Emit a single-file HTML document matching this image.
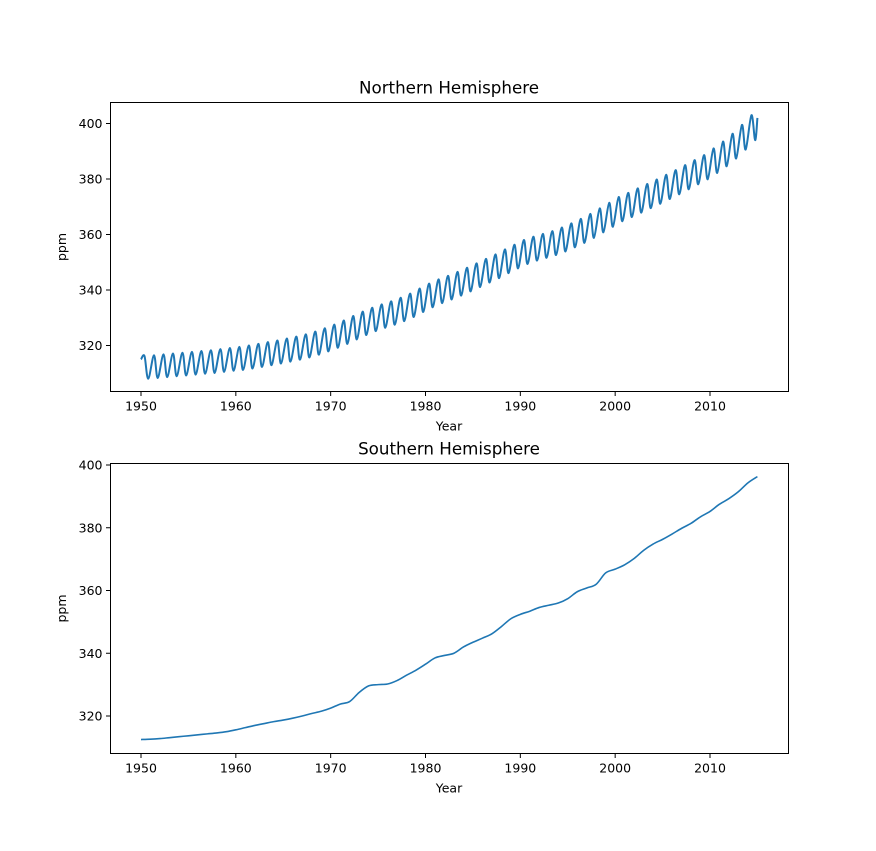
<!DOCTYPE html>
<html><head><meta charset="utf-8"><style>
html,body{margin:0;padding:0;background:#fff;}
svg text{font-family:"DejaVu Sans","Liberation Sans",sans-serif;fill:#000;}
</style></head><body>
<svg id="fig" width="876" height="846" viewBox="0 0 876 846" xmlns="http://www.w3.org/2000/svg">
<rect width="876" height="846" fill="#fff"/>
</svg>
<script>
const xTicks = [1950, 1960, 1970, 1980, 1990, 2000, 2010];
const yTicks = [320, 340, 360, 380, 400];
const nhStartYear = 1950;
const nhStartValue = 315;
const nhEndValue = 402;
const nhPeaks = [316.2,316.5,316.8,317.1,317.4,317.7,318,318.3,318.7,319.1,
319.5,320,320.6,321.2,321.8,322.5,323.2,324,325,326.2,
327.5,329,330.6,332.2,333.6,334.8,335.9,337.2,338.7,340.5,
342.3,343.8,345.1,346.5,348,349.6,351.2,352.8,354.6,356.3,
358,359.2,360.2,361.2,362.5,364,365.6,367.4,369.4,371.4,
373.5,375,376.6,378.2,379.8,381.5,383.2,385,386.8,388.6,
391,393.5,396.3,399.5,403];
const nhTroughs = [308,308.3,308.6,308.9,309.2,309.5,309.8,310.1,310.5,310.9,
311.2,311.7,312.3,312.9,313.5,314.2,314.9,315.7,316.7,317.9,
319.2,320.6,322.2,323.8,325.2,326.4,327.5,328.8,330.3,332.1,
333.8,335.3,336.6,338,339.5,341.1,342.7,344.3,346.1,347.8,
349.4,350.6,351.6,352.6,353.9,355.4,357,358.8,360.8,362.8,
364.8,366.3,367.9,369.5,371.1,372.8,374.5,376.3,378.1,379.9,
382.2,384.6,387.4,390.6,394];
const shYears = [1950,1951,1952,1953,1954,1955,1956,1957,1958,1959,1960,1961,1962,1963,1964,1965,1966,1967,1968,1969,1970,1971,1972,1973,1974,1975,1976,1977,1978,1979,1980,1981,1982,1983,1984,1985,1986,1987,1988,1989,1990,1991,1992,1993,1994,1995,1996,1997,1998,1999,2000,2001,2002,2003,2004,2005,2006,2007,2008,2009,2010,2011,2012,2013,2014,2015];
const shValues = [312.5,312.6,312.8,313.1,313.4,313.7,314,314.3,314.6,315,315.6,316.3,317,317.6,318.2,318.7,319.3,320,320.8,321.5,322.5,323.8,324.6,327.5,329.6,330,330.2,331.3,333,334.6,336.5,338.5,339.3,340,342,343.5,344.8,346.2,348.5,351,352.4,353.4,354.6,355.3,356,357.4,359.6,360.8,362,365.6,366.8,368.2,370.2,372.8,374.8,376.3,378,379.8,381.4,383.5,385.2,387.5,389.3,391.5,394.3,396.3];

const NS = 'http://www.w3.org/2000/svg';
const svg = document.getElementById('fig');
function mk(tag, attrs, parent, text) {
  const e = document.createElementNS(NS, tag);
  for (const k in attrs) e.setAttribute(k, attrs[k]);
  if (text !== undefined) e.textContent = text;
  (parent || svg).appendChild(e);
  return e;
}
const X0 = 110.5, X1 = 788.5;
function xScale(yr) { return 141 + (yr - 1950) * (569 / 60); }

function catmull(pts) {
  let d = 'M' + pts[0][0].toFixed(2) + ',' + pts[0][1].toFixed(2);
  for (let i = 0; i < pts.length - 1; i++) {
    const p0 = pts[Math.max(0, i - 1)], p1 = pts[i], p2 = pts[i + 1], p3 = pts[Math.min(pts.length - 1, i + 2)];
    const c1x = p1[0] + (p2[0] - p0[0]) / 6, c1y = p1[1] + (p2[1] - p0[1]) / 6;
    const c2x = p2[0] - (p3[0] - p1[0]) / 6, c2y = p2[1] - (p3[1] - p1[1]) / 6;
    d += 'C' + c1x.toFixed(2) + ',' + c1y.toFixed(2) + ' ' + c2x.toFixed(2) + ',' + c2y.toFixed(2) + ' ' + p2[0].toFixed(2) + ',' + p2[1].toFixed(2);
  }
  return d;
}

function panel(name, top, bottom, yScale, title) {
  const g = mk('g', {});
  
  
  const t = mk('text', {x: 449, y: top - 9, 'font-size': 16.7, 'text-anchor': 'middle'}, g, title);
  
  
  xTicks.forEach(v => {
    const x = xScale(v);
    mk('line', {x1: x, x2: x, y1: bottom, y2: bottom + 4.5, stroke: '#000', 'stroke-width': 1}, g);
    const tl = mk('text', {x: x, y: bottom + 19, 'font-size': 12.5, 'text-anchor': 'middle'}, g, String(v));
    
    
  });
  yTicks.forEach(v => {
    const y = yScale(v);
    mk('line', {x1: X0 - 4.5, x2: X0, y1: y, y2: y, stroke: '#000', 'stroke-width': 1}, g);
    const tl = mk('text', {x: X0 - 8, y: y + 4.5, 'font-size': 12.5, 'text-anchor': 'end'}, g, String(v));
    
    
  });
  const xl = mk('text', {x: 449, y: bottom + 39, 'font-size': 12.5, 'text-anchor': 'middle'}, g, 'Year');
  
  
  const cy = (top + bottom) / 2;
  const yl = mk('text', {x: 66, y: cy, 'font-size': 12.5, 'text-anchor': 'middle', transform: 'rotate(-90 66 ' + cy + ')'}, g, 'ppm');
  
  
  return g;
}
function frame(g, name, top, bottom) {
  const r = mk('rect', {x: X0, y: top, width: X1 - X0, height: bottom - top, fill: 'none', stroke: '#000', 'stroke-width': 1}, g);
  
  
}

// Northern panel
const nTop = 102.5, nBot = 391.5;
const nY = v => 123.5 - (v - 400) * (222 / 80);
const gN = panel('northern', nTop, nBot, nY, 'Northern Hemisphere');
const nPts = [[xScale(nhStartYear), nY(nhStartValue)]];
nhPeaks.forEach((p, i) => {
  const yr = nhStartYear + i;
  nPts.push([xScale(yr + 0.37), nY(p)]);
  nPts.push([xScale(yr + 0.76), nY(nhTroughs[i])]);
});
nPts.push([xScale(nhStartYear + nhPeaks.length), nY(nhEndValue)]);
const nl = mk('path', {d: catmull(nPts), fill: 'none', stroke: '#1f77b4', 'stroke-width': 2, 'stroke-linejoin': 'round'}, gN);


frame(gN, 'northern', nTop, nBot);

// Southern panel
const sTop = 463.5, sBot = 753.5;
const sY = v => 465 - (v - 400) * (251 / 80);
const gS = panel('southern', sTop, sBot, sY, 'Southern Hemisphere');
const sPts = shYears.map((yr, i) => [xScale(yr), sY(shValues[i])]);
const sl = mk('path', {d: catmull(sPts), fill: 'none', stroke: '#1f77b4', 'stroke-width': 1.6, 'stroke-linejoin': 'round'}, gS);


frame(gS, 'southern', sTop, sBot);
</script>
</body></html>
